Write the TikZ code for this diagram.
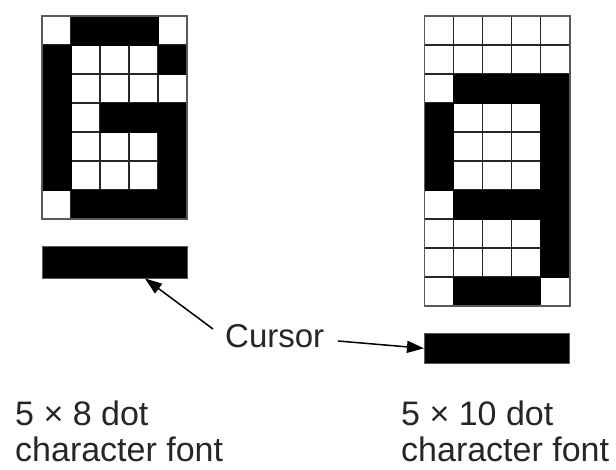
\documentclass[tikz,border=0pt]{standalone}
\usepackage{fontspec}
\setmainfont{Liberation Sans}
\usetikzlibrary{arrows.meta,calc}
\tikzset{
  gridline/.style={draw=black!85,line width=1.3pt},
  frameline/.style={draw=black!65,line width=1.6pt},
  dotfill/.style={fill=black},
  cursorbar/.style={fill=black,draw=black!65,line width=1pt,rectangle,inner sep=0pt},
  label/.style={inner sep=0pt,text depth=0pt,font=\fontsize{34}{38}\selectfont,text=black!85},
  pointer/.style={draw=black,line width=1.5pt,-{Triangle[length=17pt,width=12pt]}}
}
\begin{document}
\begin{tikzpicture}[x=1pt,y=-1pt]
\useasboundingbox (0,0) rectangle (616,469);
% left grid 5x7
\begin{scope}[shift={(42,16)}]
  \foreach \c in {0,...,4}{\foreach \r in {0,...,6}{\draw[gridline] (\c*29,\r*29) rectangle ++(29,29);}}
  \foreach \c/\r in {1/0,2/0,3/0, 0/1,4/1, 0/2, 0/3,2/3,3/3,4/3, 0/4,4/4, 0/5,4/5, 1/6,2/6,3/6,4/6}
    {\fill[dotfill] (\c*29-0.5,\r*29-0.5) rectangle ++(30,30);}
  \draw[frameline] (0,0) rectangle (145,203);
\end{scope}
% right grid 5x10
\begin{scope}[shift={(424.5,16)}]
  \foreach \c in {0,...,4}{\foreach \r in {0,...,9}{\draw[gridline] (\c*29,\r*29) rectangle ++(29,29);}}
  \foreach \c/\r in {1/2,2/2,3/2,4/2, 0/3,4/3, 0/4,4/4, 0/5,4/5, 1/6,2/6,3/6,4/6, 4/7, 4/8, 1/9,2/9,3/9}
    {\fill[dotfill] (\c*29-0.5,\r*29-0.5) rectangle ++(30,30);}
  \draw[frameline] (0,0) rectangle (145.5,290);
\end{scope}
% cursor bars
\node[cursorbar,minimum width=145pt,minimum height=32pt] (barL) at (114.5,262) {};
\node[cursorbar,minimum width=145.5pt,minimum height=30pt] (barR) at (497.2,348.3) {};
% labels
\node[label,font=\fontsize{33}{38}\selectfont,anchor=base west] (cur) at (225,347) {Cursor};
\node[label,anchor=base west] (l1) at (15,425) {5 × 8 dot};
\node[label,anchor=base west] (l2) at (15,461) {character font};
\node[label,anchor=base west] (r1) at (401,425) {5 × 10 dot};
\node[label,anchor=base west] (r2) at (401,461) {character font};
% arrows
\coordinate (a1) at (213,329);
\coordinate (a2) at (338,341);
\draw[pointer] (a1) -- ($(barL.south)+(30.5,0)$);
\draw[pointer] (a2) -- (barR.west);
\end{tikzpicture}
\end{document}
